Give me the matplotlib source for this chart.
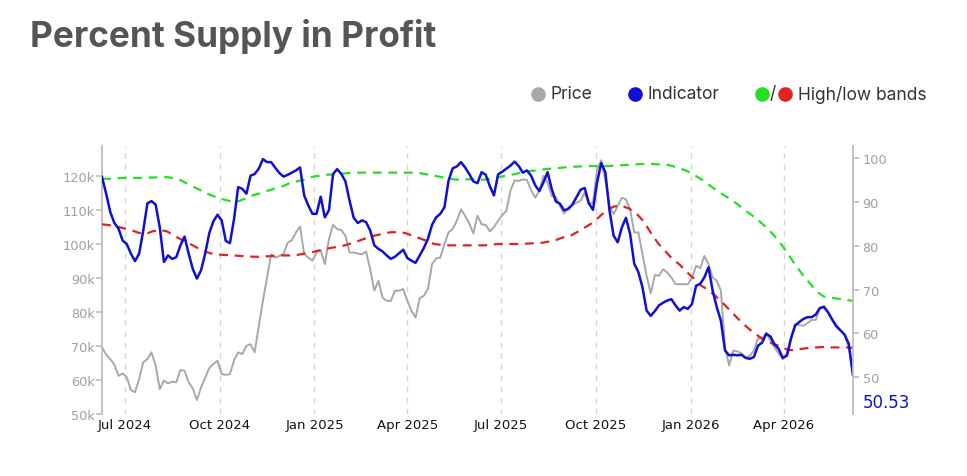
import numpy as np
import pandas as pd
import matplotlib
matplotlib.use("Agg")
import matplotlib.pyplot as plt
import matplotlib.dates as mdates
from matplotlib.lines import Line2D
from matplotlib.ticker import FuncFormatter, MultipleLocator

# dates: price / indicator every 4 days, bands weekly
price_dates = pd.date_range("2024-06-09", periods=183, freq="4D")
band_dates = pd.date_range("2024-06-09", periods=105, freq="7D")

# BTC price in thousands USD (left axis)
price_k = [
    69.6, 67.4, 66.1, 64.5, 61.2, 61.9, 60.8, 57.0, 56.4, 60.3, 65.2, 66.1, 68.1, 64.2, 57.3,
    59.8, 59.0, 59.5, 59.3, 62.9, 62.7, 59.3, 57.5, 54.1, 57.8, 60.6, 63.5, 64.7, 65.6, 61.7,
    61.5, 61.7, 65.8, 68.1, 67.6, 70.0, 70.5, 68.1, 75.9, 83.2, 90.1, 96.9, 95.9, 96.4, 97.0,
    100.3, 101.0, 103.3, 105.0, 96.9, 95.9, 95.0, 97.4, 98.1, 94.0, 101.3, 105.5, 104.3, 104.0, 102.3,
    97.4, 97.4, 97.1, 96.9, 97.7, 92.5, 86.2, 89.1, 84.2, 83.2, 83.2, 86.2, 86.2, 86.7, 83.2,
    80.3, 78.3, 84.0, 84.7, 86.7, 94.0, 95.7, 95.9, 99.9, 103.3, 104.3, 106.7, 110.1, 108.2, 106.0,
    103.0, 108.2, 105.7, 105.5, 103.6, 104.9, 106.7, 108.4, 109.6, 115.5, 118.6, 118.4, 118.9, 118.7, 115.7,
    113.5, 115.5, 119.9, 117.9, 114.0, 113.7, 111.1, 108.8, 110.6, 111.3, 112.0, 112.6, 115.0, 111.6, 112.1,
    121.8, 124.5, 118.4, 111.1, 108.7, 111.1, 113.5, 113.0, 110.1, 103.3, 103.3, 96.9, 90.6, 85.4, 90.8,
    90.6, 92.5, 91.5, 90.1, 88.1, 88.1, 88.1, 88.1, 90.1, 93.5, 92.8, 96.4, 94.0, 90.1, 89.1,
    86.2, 69.6, 64.2, 68.6, 68.4, 67.8, 66.6, 67.1, 68.6, 72.3, 72.0, 73.9, 71.5, 69.6, 67.8,
    66.1, 67.6, 72.5, 76.4, 76.1, 75.9, 76.7, 77.6, 77.6, 81.1, 81.8, 79.8, 77.9, 76.2, 74.4,
    73.2, 69.6, 61.7,
]

# percent supply in profit (right axis)
indicator = [
    95.7, 91.9, 87.7, 85.2, 83.9, 81.2, 80.4, 78.2, 76.5, 78.2, 83.5, 89.7, 90.2, 89.4, 84.2,
    76.3, 77.8, 77.0, 77.4, 80.1, 82.1, 78.2, 74.7, 72.5, 74.4, 78.2, 82.9, 85.6, 87.1, 85.8,
    81.1, 80.6, 86.1, 93.4, 93.0, 91.9, 96.0, 96.4, 97.6, 99.8, 99.1, 99.1, 97.8, 96.6, 95.8,
    96.2, 96.7, 97.2, 97.9, 91.5, 89.2, 87.3, 87.3, 91.2, 86.5, 88.1, 96.4, 97.5, 96.4, 94.7,
    90.3, 86.4, 85.2, 85.8, 85.4, 83.5, 80.1, 79.3, 78.7, 77.8, 77.0, 77.5, 78.3, 79.1, 77.2,
    76.6, 76.1, 77.8, 79.5, 81.6, 84.8, 86.5, 87.3, 88.8, 94.9, 97.7, 98.1, 99.1, 97.9, 96.4,
    94.7, 94.3, 96.8, 96.2, 93.6, 91.5, 96.3, 96.9, 97.6, 98.3, 99.2, 98.2, 96.7, 97.2, 96.0,
    93.8, 92.5, 94.5, 96.8, 93.0, 90.1, 89.6, 88.1, 88.4, 89.4, 91.1, 92.8, 93.2, 89.7, 88.2,
    94.5, 98.9, 96.8, 88.1, 82.3, 80.8, 84.2, 86.4, 82.7, 75.9, 74.0, 70.5, 65.2, 64.0, 65.1,
    66.4, 67.0, 67.5, 67.8, 66.4, 65.2, 66.0, 65.6, 66.7, 70.9, 71.3, 72.8, 75.1, 69.8, 66.0,
    62.9, 56.1, 55.0, 55.1, 55.0, 55.1, 54.4, 54.2, 54.6, 57.2, 57.9, 59.9, 59.3, 57.5, 56.5,
    54.4, 54.9, 58.8, 61.8, 62.6, 63.3, 63.7, 63.7, 64.3, 65.8, 66.0, 64.8, 63.1, 61.6, 60.7,
    59.7, 57.6, 50.53,
]

high_band = [
    95.3, 95.3, 95.4, 95.5, 95.5, 95.5, 95.5, 95.6, 95.6, 95.7, 95.4, 94.9, 94.0, 93.2, 92.4,
    91.6, 91.0, 90.5, 90.1, 90.2, 90.9, 91.6, 92.0, 92.6, 93.1, 93.6,
    94.3, 94.7, 95.1, 95.7, 96.0, 96.2, 96.3, 96.4, 96.6, 96.7, 96.7, 96.7, 96.7, 96.7, 96.7,
    96.7, 96.7, 96.7, 96.6, 96.3, 96.0, 95.7, 95.4, 95.1, 95.1,
    95.2, 95.1, 95.1, 95.4, 95.7, 96.0, 96.3, 96.7, 97.0, 97.2, 97.4, 97.6, 97.7, 97.9, 98.0,
    98.1, 98.2, 98.2, 98.2, 98.2, 98.3, 98.4, 98.5, 98.6, 98.7, 98.7,
    98.6, 98.6, 98.2, 97.7, 97.1, 96.2, 95.2, 94.0, 92.8, 91.7, 90.7, 89.5, 88.2, 87.0, 85.7,
    84.2, 82.5, 80.5, 78.2, 75.7, 73.5, 71.5, 69.5, 68.4, 68.1, 67.9, 67.7, 67.4,
]

low_band = [
    84.9, 84.7, 84.4, 84.0, 83.6, 83.0, 82.7, 83.3, 83.6, 83.3, 82.3, 81.4, 80.6, 79.7, 78.8,
    78.3, 78.0, 77.9, 77.8, 77.7, 77.6, 77.5, 77.5, 77.6, 77.7, 77.8,
    77.8, 77.9, 78.2, 78.5, 78.9, 79.3, 79.6, 79.8, 80.3, 80.8, 81.4, 82.0, 82.4, 82.8, 83.1,
    83.1, 82.9, 82.3, 81.7, 81.1, 80.4, 80.2, 80.1, 80.1, 80.1,
    80.1, 80.1, 80.1, 80.3, 80.4, 80.4, 80.4, 80.4, 80.5, 80.6, 80.7, 81.0, 81.4, 82.0, 82.4,
    83.3, 84.3, 85.3, 86.8, 88.3, 89.0, 89.1, 88.5, 87.4, 85.6, 83.0,
    80.6, 78.8, 77.0, 75.7, 74.0, 72.5, 70.9, 69.9, 68.5, 66.9, 65.2, 63.5, 61.9, 60.5, 59.3,
    58.2, 57.6, 57.0, 56.2, 56.2, 56.5, 56.7, 56.8, 56.9, 56.8, 56.8, 56.8, 56.7,
]

price_col = "#a8a8a8"
ind_col = "#1010d0"
green_col = "#22e022"
red_col = "#e02222"
axis_col = "#bdbdbd"
tick_col = "#a0a0a0"

fig = plt.figure(figsize=(9.67, 4.77), dpi=100)
ax = fig.add_axes([0.1055, 0.130, 0.7765, 0.562])
ax2 = ax.twinx()

ax.plot(price_dates, np.array(price_k) * 1000, color=price_col, lw=1.4)
ax2.plot(band_dates, high_band, color=green_col, lw=1.6, ls=(0, (4, 3)))
ax2.plot(band_dates, low_band, color=red_col, lw=1.6, ls=(0, (4, 3)))
ax2.plot(price_dates, indicator, color=ind_col, lw=1.8)

ax.set_xlim(price_dates[0], price_dates[-1])
ax.set_ylim(50000, 128700)
ax2.set_ylim(41.6, 102.8)

ax.xaxis.set_major_locator(mdates.MonthLocator(bymonth=[1, 4, 7, 10]))
ax.xaxis.set_major_formatter(mdates.DateFormatter("%b %Y"))
ax.yaxis.set_major_locator(MultipleLocator(10000))
ax.yaxis.set_major_formatter(FuncFormatter(lambda v, p: f"{int(round(v / 1000))}k"))
ax2.yaxis.set_major_locator(MultipleLocator(10))

ax.grid(axis="x", color="#d6d6d6", ls=(0, (4, 4)), lw=1)
ax.grid(axis="y", visible=False)

for a in (ax, ax2):
    for s in ("top", "bottom"):
        a.spines[s].set_visible(False)
ax.spines["right"].set_visible(False)
ax2.spines["left"].set_visible(False)
ax.spines["left"].set_color(axis_col)
ax.spines["left"].set_linewidth(1.3)
ax2.spines["right"].set_color(axis_col)
ax2.spines["right"].set_linewidth(1.3)

ax.tick_params(axis="x", length=0, pad=3, labelsize=9.5, labelcolor="#111111")
ax.tick_params(axis="y", length=4, width=1.2, color=axis_col, pad=1,
               labelsize=9.3, labelcolor=tick_col)
ax2.tick_params(axis="y", length=4, width=1.2, color=axis_col, pad=3,
                labelsize=9.3, labelcolor=tick_col)
ax2.tick_params(axis="x", length=0)

# title
fig.text(0.031, 0.9015, "Percent Supply in Profit", family=["Inter", "DejaVu Sans"],
         fontweight="bold", fontsize=25.3, color="#555555", va="baseline")

# legend drawn by hand
leg_y = 0.801
leg_font = dict(family=["Inter", "DejaVu Sans"], fontsize=12.5, color="#333333", va="center")
for x, c in [(0.5564, price_col), (0.6567, ind_col), (0.788, green_col), (0.8118, red_col)]:
    fig.add_artist(Line2D([x], [leg_y], marker="o", ms=9.5, color=c, mec=c,
                          transform=fig.transFigure))
fig.text(0.5698, leg_y, "Price", **leg_font)
fig.text(0.6701, leg_y, "Indicator", **leg_font)
fig.text(0.7994, leg_y, "/", ha="center", **leg_font)
fig.text(0.8252, leg_y, "High/low bands", **leg_font)

# latest value
fig.text(0.8925, 0.1551, f"{indicator[-1]:.2f}", color=ind_col, fontsize=12, va="center")

fig.savefig("out.png", dpi=100)
